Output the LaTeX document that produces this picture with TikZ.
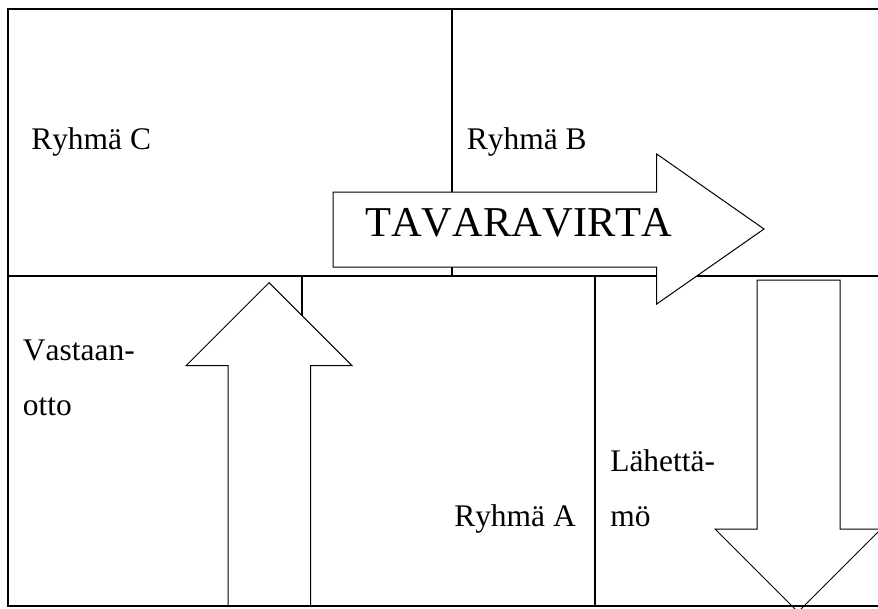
\documentclass[tikz,border=0pt]{standalone}
\usepackage{fontspec}
\setmainfont[Kerning=Off]{Liberation Serif}
\begin{document}
\begin{tikzpicture}[x=0.75pt,y=-0.75pt,
  frame/.style={line width=1pt,black},
  bigarrow/.style={line width=0.75pt,draw=black,fill=white,line join=miter},
  lbl/.style={anchor=base west,inner sep=0pt,font=\fontsize{23.6pt}{28pt}\selectfont},
  biglbl/.style={anchor=base west,inner sep=0pt,font=\fontsize{31.9pt}{38pt}\selectfont}]
\useasboundingbox (0,0) rectangle (878,608);
\clip (0,0) rectangle (878,608);
% frame lines
\draw[frame] (890,9) -- (8,9) -- (8,606) -- (890,606);
\draw[frame] (8,276) -- (890,276);
\draw[frame] (452,9) -- (452,276);
\draw[frame] (302,276) -- (302,606);
\draw[frame] (595,276) -- (595,606);
% arrows
\draw[bigarrow] (333,192) -- (656.7,192) -- (656.7,154) -- (764,229) -- (656.7,304) -- (656.7,267) -- (333,267) -- cycle;
\draw[bigarrow] (228,607) -- (228,365.7) -- (186,365.7) -- (269,282.7) -- (352,365.7) -- (310.7,365.7) -- (310.7,607);
\draw[bigarrow] (757,280) -- (840,280) -- (840,529) -- (881,529) -- (798,612) -- (715,529) -- (757,529) -- cycle;
\draw[frame] (8,606) -- (890,606);
% labels
\node[lbl] (rc) at (31,149) {Ryhmä C};
\node[lbl] (rb) at (466.7,149) {Ryhmä B};
\node[biglbl] (tv) at (365,236.7) {TAVARAVIRTA};
\node[lbl] (va) at (22.7,360.7) {Vastaan-};
\node[lbl] (vo) at (22.7,415.7) {otto};
\node[lbl] (ra) at (454,526.7) {Ryhmä A};
\node[lbl] (la) at (610,471) {Lähettä-};
\node[lbl] (lm) at (610,526.7) {mö};
\end{tikzpicture}
\end{document}
